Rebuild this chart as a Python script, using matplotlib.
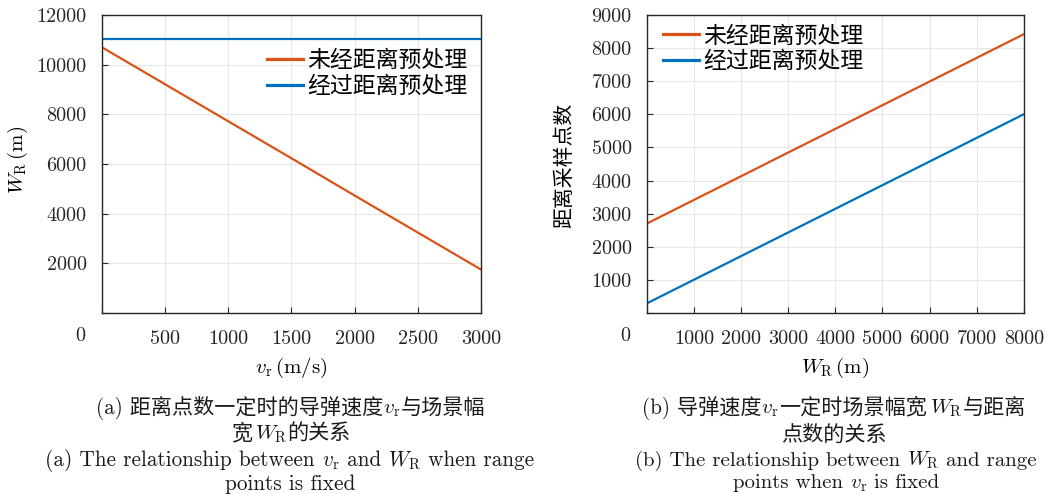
import matplotlib
matplotlib.use('agg')
import matplotlib.pyplot as plt
from matplotlib.offsetbox import TextArea, HPacker, AnnotationBbox

plt.rcParams['font.family'] = ['cmr10', 'Noto Sans CJK SC', 'DejaVu Sans']
plt.rcParams['mathtext.fontset'] = 'cm'
plt.rcParams['axes.formatter.use_mathtext'] = True

# (a) W_R versus missile speed v_r, range points fixed
vr = [0, 500, 1000, 1500, 2000, 2500, 3000]
wr_raw = [10700, 9210, 7720, 6230, 4730, 3240, 1750]
wr_pre = [11020, 11020, 11020, 11020, 11020, 11020, 11020]

# (b) range sampling points versus W_R, v_r fixed
wr = [0, 1000, 2000, 3000, 4000, 5000, 6000, 7000, 8000]
pts_raw = [2700, 3415, 4130, 4845, 5560, 6275, 6990, 7705, 8420]
pts_pre = [290, 1004, 1718, 2432, 3146, 3860, 4574, 5288, 6002]

lab_raw = '未经距离预处理'
lab_pre = '经过距离预处理'
orange = '#D95319'
blue = '#0072BD'
frame = '#262626'

fig = plt.figure(figsize=(10.5, 4.94), dpi=100)
ax1 = fig.add_axes([0.0971, 0.3664, 0.361, 0.6032])
ax2 = fig.add_axes([0.616, 0.3664, 0.359, 0.6032])


def style(ax):
    ax.grid(True, color='#e8e8e8', linewidth=0.8)
    ax.set_axisbelow(True)
    ax.tick_params(direction='in', length=4, width=0.8, color=frame,
                   labelsize=14.5, labelcolor='#262626')
    ax.tick_params(axis='x', pad=12)
    ax.tick_params(axis='y', pad=11)
    for s in ax.spines.values():
        s.set_color(frame)
        s.set_linewidth(1.0)


def add_legend(ax, anchor):
    leg = ax.legend(loc='upper left', bbox_to_anchor=anchor, frameon=False,
                    fontsize=16.5, handlelength=1.57, handletextpad=0.2,
                    labelspacing=0.2, borderpad=0, borderaxespad=0)
    for ln in leg.get_lines():
        ln.set_linewidth(2.3)


def caption(x, y, s, size=15):
    # mathtext can't fall back to the CJK font, so lay out the
    # plain and $...$ pieces side by side on a common baseline
    parts = []
    for i, piece in enumerate(s.split('$')):
        if not piece:
            continue
        txt = '$' + piece + '$' if i % 2 else piece
        parts.append(TextArea(txt, textprops=dict(fontsize=size, color='#1a1a1a')))
    box = HPacker(children=parts, pad=0, sep=0, align='baseline')
    fig.add_artist(AnnotationBbox(box, (x, y), xycoords='figure fraction',
                                  frameon=False, box_alignment=(0.5, 0.5), pad=0))


ax1.plot(vr, wr_raw, color=orange, lw=1.6, label=lab_raw)
ax1.plot(vr, wr_pre, color=blue, lw=1.6, label=lab_pre)
ax1.set_xlim(0, 3000)
ax1.set_ylim(0, 12000)
ax1.set_xticks([0, 500, 1000, 1500, 2000, 2500, 3000])
ax1.set_xticklabels(['', '500', '1000', '1500', '2000', '2500', '3000'])
ax1.set_yticks([0, 2000, 4000, 6000, 8000, 10000, 12000])
ax1.set_yticklabels(['', '2000', '4000', '6000', '8000', '10000', '12000'])
style(ax1)
ax1.text(-0.058, -0.077, '0', transform=ax1.transAxes, ha='center', va='center',
         fontsize=14.5, color='#262626')
ax1.set_xlabel(r'$v_{\mathrm{r}}\,(\mathrm{m/s})$', fontsize=15)
ax1.xaxis.label.set_va('center')
ax1.xaxis.set_label_coords(0.5, -0.185)
ax1.set_ylabel(r'$W_{\mathrm{R}}\,(\mathrm{m})$', fontsize=15)
ax1.yaxis.label.set_va('center')
ax1.yaxis.set_label_coords(-0.222, 0.513)
add_legend(ax1, (0.435, 0.883))

ax2.plot(wr, pts_raw, color=orange, lw=1.6, label=lab_raw)
ax2.plot(wr, pts_pre, color=blue, lw=1.6, label=lab_pre)
ax2.set_xlim(0, 8000)
ax2.set_ylim(0, 9000)
ax2.set_xticks(list(range(0, 9000, 1000)))
ax2.set_xticklabels([''] + [str(v) for v in range(1000, 9000, 1000)])
ax2.set_yticks(list(range(0, 10000, 1000)))
ax2.set_yticklabels([''] + [str(v) for v in range(1000, 10000, 1000)])
style(ax2)
ax2.text(-0.056, -0.077, '0', transform=ax2.transAxes, ha='center', va='center',
         fontsize=14.5, color='#262626')
ax2.set_xlabel(r'$W_{\mathrm{R}}\,(\mathrm{m})$', fontsize=15)
ax2.xaxis.label.set_va('center')
ax2.xaxis.set_label_coords(0.5, -0.185)
ax2.set_ylabel('距离采样点数', fontsize=15)
ax2.yaxis.label.set_va('center')
ax2.yaxis.set_label_coords(-0.218, 0.497)
add_legend(ax2, (0.042, 0.966))

# sub-figure captions
caption(0.277, 0.175, r'(a) 距离点数一定时的导弹速度$v_{\mathrm{r}}$与场景幅', 15.2)
caption(0.277, 0.121, r'宽$\,W_{\mathrm{R}}$的关系', 15.2)
caption(0.276, 0.068, r'(a) The relationship between $v_{\mathrm{r}}$ and $W_{\mathrm{R}}$ when range', 15.3)
caption(0.276, 0.020, 'points is fixed', 15.3)
caption(0.794, 0.175, r'(b) 导弹速度$v_{\mathrm{r}}$一定时场景幅宽$\,W_{\mathrm{R}}$与距离', 15.2)
caption(0.794, 0.121, '点数的关系', 15.2)
caption(0.796, 0.068, r'(b) The relationship between $W_{\mathrm{R}}$ and range', 15.0)
caption(0.796, 0.020, r'points when $v_{\mathrm{r}}$ is fixed', 15.0)

fig.savefig('out.png', dpi=100)
